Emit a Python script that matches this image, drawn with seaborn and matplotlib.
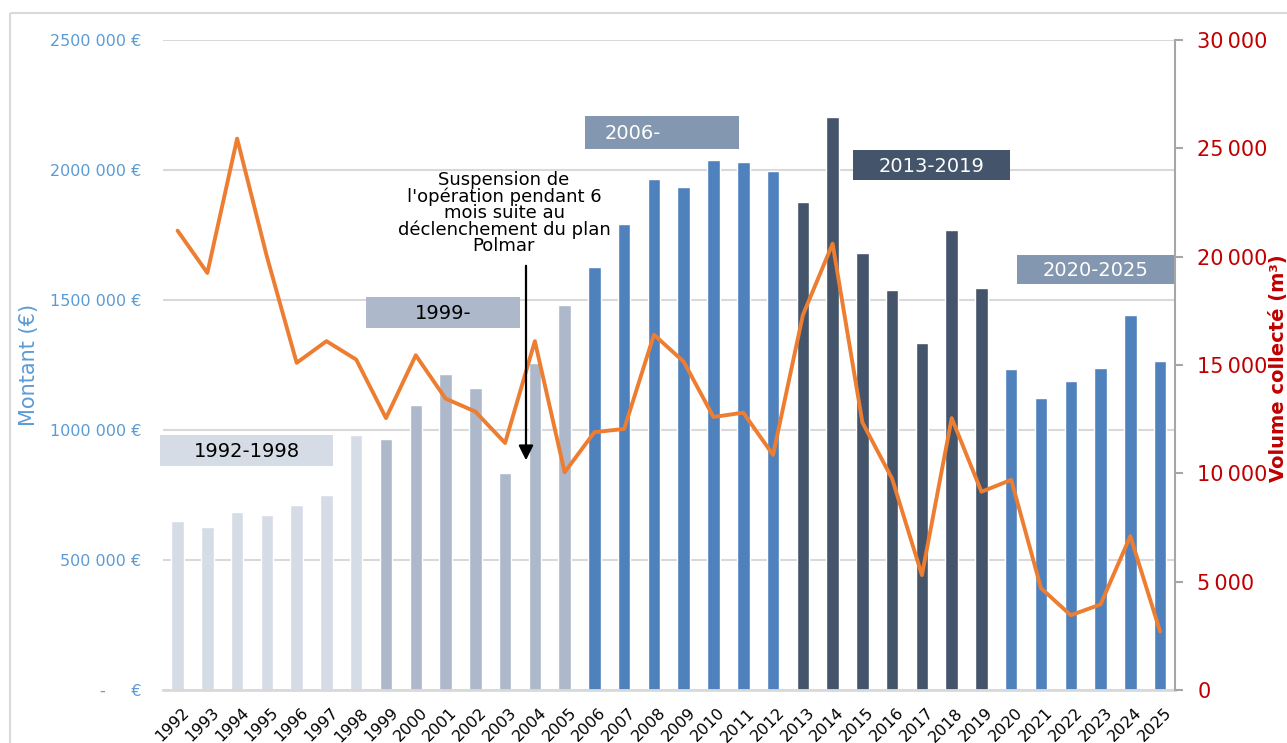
import numpy as np
import pandas as pd
import matplotlib
matplotlib.use('Agg')
import matplotlib.pyplot as plt
import seaborn as sns
from matplotlib import transforms
from matplotlib.patches import Rectangle, FancyArrowPatch

# données
annees = [str(a) for a in range(1992, 2026)]
montant = [650000, 627000, 685000, 673000, 711000, 750000, 981000,
           965000, 1096000, 1215000, 1162000, 835000, 1258000, 1481000,
           1627000, 1792000, 1965000, 1935000, 2038000, 2030000, 1996000,
           1877000, 2204000, 1681000, 1538000, 1335000, 1769000, 1546000,
           1235000, 1123000, 1188000, 1238000, 1442000, 1265000]
volume = [21200, 19250, 25450, 20000, 15100, 16100, 15250,
          12550, 15450, 13450, 12850, 11400, 16100, 10050,
          11900, 12050, 16400, 15150, 12600, 12800, 10850,
          17300, 20600, 12350, 9750, 5300, 12550, 9150,
          9700, 4700, 3450, 3950, 7100, 2700]
periodes = (['1992-1998'] * 7 + ['1999-2005'] * 7 + ['2006-2012'] * 7
            + ['2013-2019'] * 7 + ['2020-2025'] * 6)
couleurs = {'1992-1998': '#D6DCE5', '1999-2005': '#ADB9CA',
            '2006-2012': '#4F81BD', '2013-2019': '#44546A',
            '2020-2025': '#4F81BD'}

ticks_montant = [0, 500000, 1000000, 1500000, 2000000, 2500000]
labels_montant = ['-     €', '500 000 €', '1000 000 €', '1500 000 €',
                  '2000 000 €', '2500 000 €']
ticks_volume = [0, 5000, 10000, 15000, 20000, 25000, 30000]
labels_volume = ['0', '5\u2009000', '10\u2009000', '15\u2009000',
                 '20\u2009000', '25\u2009000', '30\u2009000']

df = pd.DataFrame({'annee': annees, 'montant': montant,
                   'volume': volume, 'periode': periodes})

sns.set_style('white')
plt.rcParams['font.family'] = ['DejaVu Sans']

W, H = 1287, 743
fig = plt.figure(figsize=(W / 100, H / 100), dpi=100)
ax1 = fig.add_axes([162.7 / W, 53 / H, 1012.3 / W, 650 / H])

sns.barplot(data=df, x='annee', y='montant', hue='periode',
            palette=couleurs, dodge=False, width=0.42, saturation=1,
            legend=False, ax=ax1)

ax2 = ax1.twinx()
sns.lineplot(x=df.index, y=df['volume'], ax=ax2, color='#ED7D31', lw=2.8)

ax1.set_xlim(-0.5, len(annees) - 0.5)
ax1.set_ylim(0, 2500000)
ax2.set_ylim(0, 30000)

# axe gauche
ax1.set_yticks(ticks_montant)
ax1.set_yticklabels(labels_montant)
ax1.tick_params(axis='y', length=0, pad=15.5, labelsize=11.5, labelcolor='#5B9BD5')
ax1.tick_params(axis='x', length=0, pad=11, labelsize=11.5, labelcolor='black')
decal = transforms.ScaledTranslation(0.04, 0, fig.dpi_scale_trans)
for lab in ax1.get_xticklabels():
    lab.set_rotation(45)
    lab.set_ha('right')
    lab.set_rotation_mode('anchor')
    lab.set_transform(lab.get_transform() + decal)
ax1.set_xlabel('')
ax1.set_ylabel('Montant (€)', color='#5B9BD5', fontsize=15)
ax1.yaxis.set_label_coords(-0.122, 0.5)
ax1.yaxis.grid(True, color='#D9D9D9', lw=1.5)
ax1.set_axisbelow(True)
for s in ['top', 'left', 'right']:
    ax1.spines[s].set_visible(False)
ax1.spines['bottom'].set_color('#D9D9D9')
ax1.spines['bottom'].set_linewidth(2)

# axe droit
ax2.set_yticks(ticks_volume)
ax2.set_yticklabels(labels_volume)
ax2.tick_params(axis='y', length=6, width=1.5, color='#A6A6A6',
                labelcolor='#C00000', labelsize=15, pad=10)
ax2.set_ylabel('Volume collecté (m³)', color='#C00000', fontsize=14,
               fontweight='bold')
ax2.yaxis.set_label_coords(1.093, 0.495)
for s in ['top', 'left', 'bottom']:
    ax2.spines[s].set_visible(False)
ax2.spines['right'].set_color('#A6A6A6')
ax2.spines['right'].set_linewidth(1.5)

# repères en pixels (origine en haut à gauche)
px = transforms.Affine2D().scale(1 / W, -1 / H).translate(0, 1) + fig.transFigure

fig.add_artist(Rectangle((10, 13), 1400, 800, transform=px, fill=False,
                         edgecolor='#D9D9D9', lw=1.5))

boites = [
    ('1992-1998', 160, 333, 435, 466, '#D6DCE5', 'black', 'center'),
    ('1999-', 366, 520, 297, 328, '#ADB9CA', 'black', 'center'),
    ('2006-', 585, 739, 116, 149, '#8497B0', 'white', 'left'),
    ('2013-2019', 853, 1010, 150, 180, '#44546A', 'white', 'center'),
    ('2020-2025', 1017, 1174, 255, 284, '#8497B0', 'white', 'center'),
]
for txt, x0, x1, y0, y1, fc, tc, ha in boites:
    fig.add_artist(Rectangle((x0, y0), x1 - x0, y1 - y0, transform=px,
                             facecolor=fc, edgecolor='none', zorder=5))
    tx = (x0 + x1) / 2 if ha == 'center' else x0 + 20
    fig.text(tx, (y0 + y1) / 2 + 1, txt, transform=px, ha=ha, va='center',
             color=tc, fontsize=14, zorder=6)

fig.text(504, 213, "Suspension de\nl'opération pendant 6\nmois suite au\n"
         "déclenchement du plan\nPolmar", transform=px, ha='center',
         va='center', fontsize=13, linespacing=0.88, color='black', zorder=6)
fig.add_artist(FancyArrowPatch((526, 263), (526, 463), transform=px,
                               arrowstyle='-|>', mutation_scale=22,
                               color='black', lw=1.6, zorder=6))

fig.savefig('out.png', dpi=100)
